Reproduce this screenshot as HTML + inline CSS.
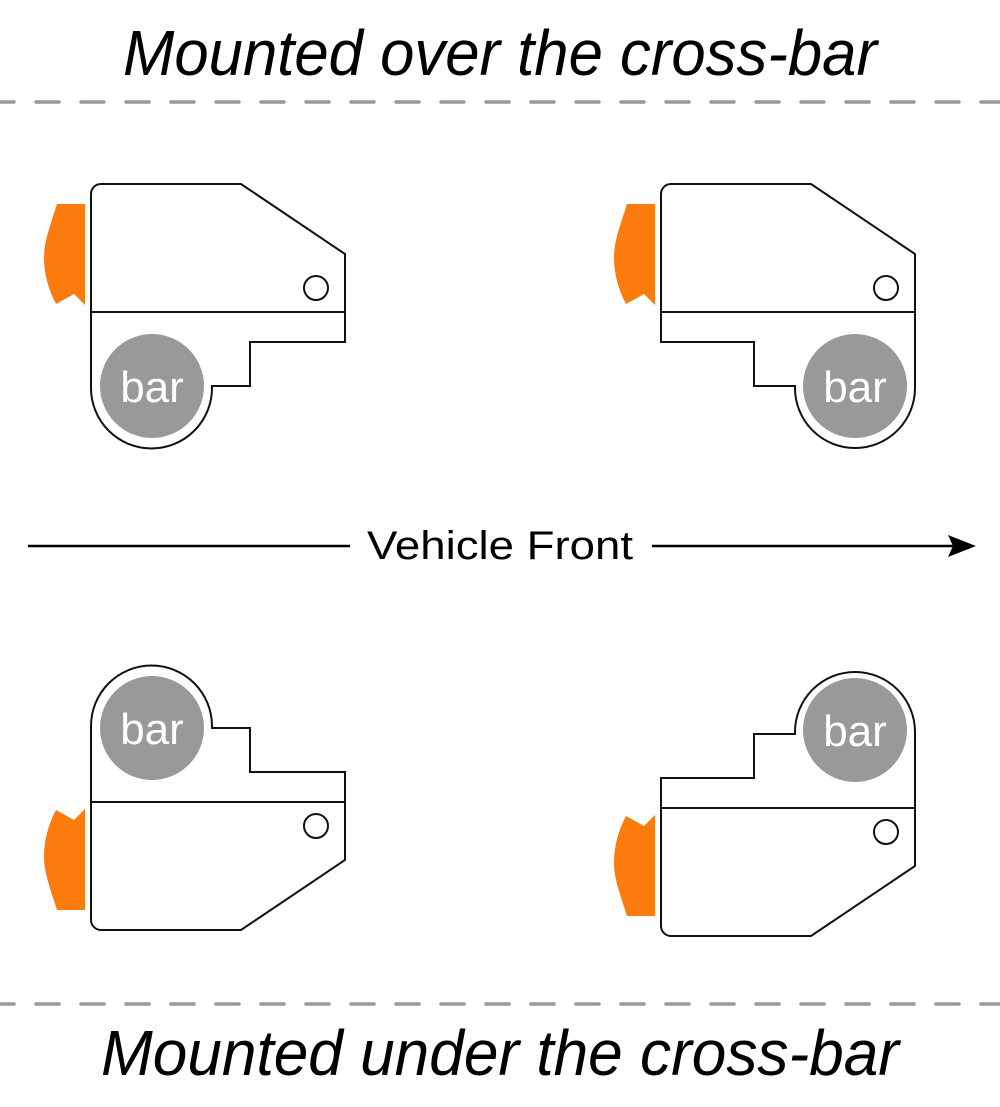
<!DOCTYPE html>
<html><head><meta charset="utf-8"><style>html,body{margin:0;padding:0;background:#fff}svg{display:block}</style></head>
<body>
<svg width="1000" height="1107" viewBox="0 0 1000 1107" xmlns="http://www.w3.org/2000/svg" font-family="Liberation Sans, sans-serif">
<defs>
  <g id="orange"><path d="M57,204 L85,204 L85,305 L74,294 L56,304 C46,285 42,265 45,245 C48,230 53,217 57,204 Z" fill="#fc7b0e"/></g>
</defs>
<text x="500" y="75" font-size="64" font-style="italic" text-anchor="middle" textLength="754" lengthAdjust="spacingAndGlyphs">Mounted over the cross-bar</text>
<line x1="0" y1="102" x2="1000" y2="102" stroke="#999" stroke-width="3.5" stroke-linecap="round" stroke-dasharray="23,22" stroke-dashoffset="9"/>
<line x1="0" y1="1004" x2="1000" y2="1004" stroke="#999" stroke-width="3.5" stroke-linecap="round" stroke-dasharray="23,22" stroke-dashoffset="9"/>
<text x="500" y="1075" font-size="64" font-style="italic" text-anchor="middle" textLength="798" lengthAdjust="spacingAndGlyphs">Mounted under the cross-bar</text>

<line x1="28" y1="546" x2="350" y2="546" stroke="#000" stroke-width="2.5"/>
<line x1="652" y1="546" x2="955" y2="546" stroke="#000" stroke-width="2.5"/>
<path d="M976,546 L948,535 L953,546 L948,557 Z" fill="#000"/>
<text x="500" y="559" font-size="40" text-anchor="middle" textLength="266" lengthAdjust="spacingAndGlyphs">Vehicle Front</text>

<g>
  <use href="#orange"/>
  <path d="M101,184 L241,184 L345,254 L345,342 L250,342 L250,386 L212,386 L212,388 A60.5,60.5 0 0 1 91,388 L91,194 A10,10 0 0 1 101,184 Z" fill="#fff" stroke="#111" stroke-width="2"/>
  <line x1="91" y1="312" x2="345" y2="312" stroke="#111" stroke-width="2"/>
  <circle cx="316" cy="288" r="12" fill="#fff" stroke="#111" stroke-width="2"/>
  <circle cx="152" cy="386" r="52" fill="#999"/>
  <text x="152" y="402" font-size="44" fill="#fff" text-anchor="middle">bar</text>
</g>
<g>
  <use href="#orange" transform="translate(570,0)"/>
  <path d="M671,184 L811,184 L915,254 L915,388 A60,60 0 0 1 795,388 L795,386 L754,386 L754,342 L661,342 L661,194 A10,10 0 0 1 671,184 Z" fill="#fff" stroke="#111" stroke-width="2"/>
  <line x1="661" y1="312" x2="915" y2="312" stroke="#111" stroke-width="2"/>
  <circle cx="886" cy="288" r="12" fill="#fff" stroke="#111" stroke-width="2"/>
  <circle cx="855" cy="386" r="52" fill="#999"/>
  <text x="855" y="402" font-size="44" fill="#fff" text-anchor="middle">bar</text>
</g>
<g transform="translate(0,1114) scale(1,-1)">
  <use href="#orange"/>
  <path d="M101,184 L241,184 L345,254 L345,342 L250,342 L250,386 L212,386 L212,388 A60.5,60.5 0 0 1 91,388 L91,194 A10,10 0 0 1 101,184 Z" fill="#fff" stroke="#111" stroke-width="2"/>
  <line x1="91" y1="312" x2="345" y2="312" stroke="#111" stroke-width="2"/>
  <circle cx="316" cy="288" r="12" fill="#fff" stroke="#111" stroke-width="2"/>
  <circle cx="152" cy="386" r="52" fill="#999"/>
</g>
<text x="152" y="744" font-size="44" fill="#fff" text-anchor="middle">bar</text>
<g transform="translate(0,1120) scale(1,-1)">
  <use href="#orange" transform="translate(570,0)"/>
  <path d="M671,184 L811,184 L915,254 L915,388 A60,60 0 0 1 795,388 L795,386 L754,386 L754,342 L661,342 L661,194 A10,10 0 0 1 671,184 Z" fill="#fff" stroke="#111" stroke-width="2"/>
  <line x1="661" y1="312" x2="915" y2="312" stroke="#111" stroke-width="2"/>
  <circle cx="886" cy="288" r="12" fill="#fff" stroke="#111" stroke-width="2"/>
</g>
<circle cx="855" cy="730" r="52" fill="#999"/>
<text x="855" y="746" font-size="44" fill="#fff" text-anchor="middle">bar</text>
</svg>
</body></html>
